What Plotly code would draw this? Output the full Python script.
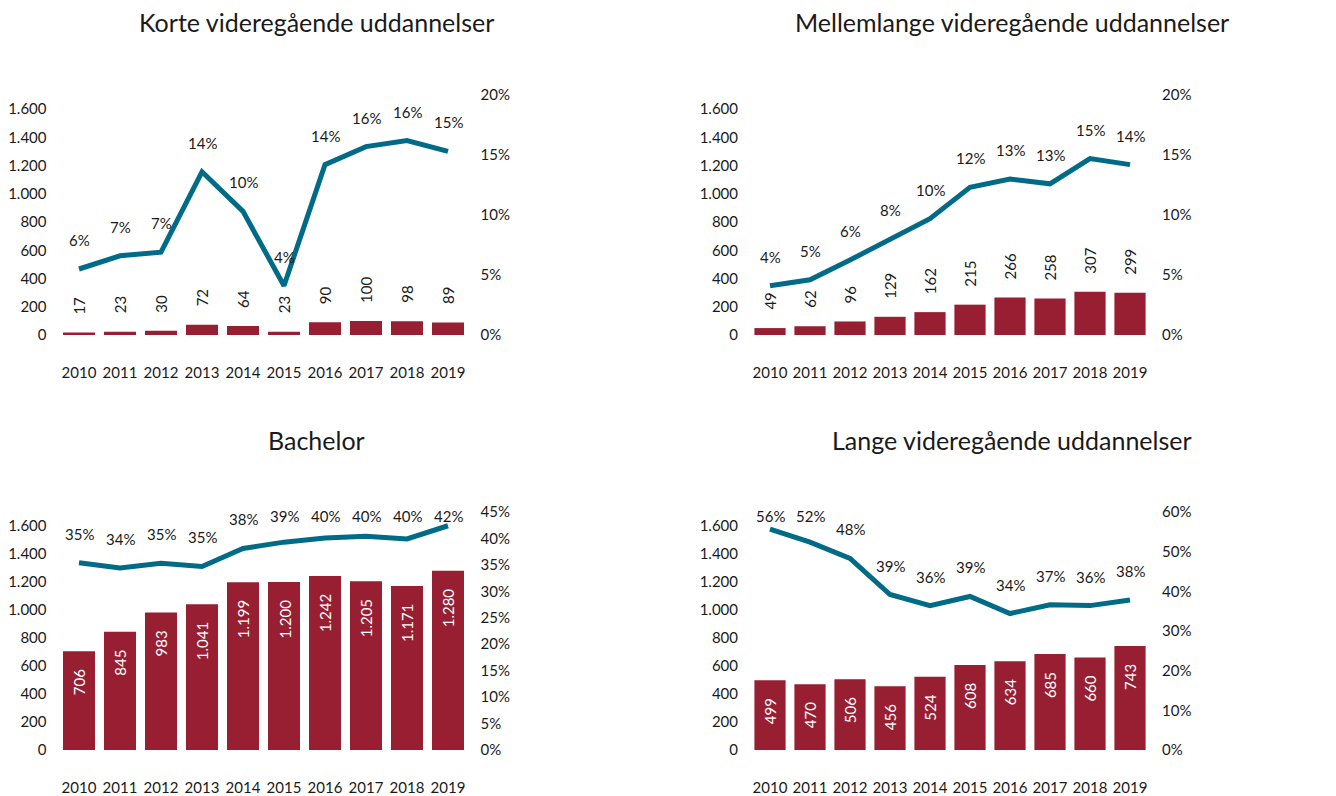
import plotly.graph_objects as go

# Years on the category axis
years = [str(y) for y in range(2010, 2020)]

# Number of graduates (bars) and share (line) per education type
korte_antal = [17, 23, 30, 72, 64, 23, 90, 100, 98, 89]
korte_andel = [0.055, 0.066, 0.069, 0.136, 0.103, 0.041, 0.142, 0.157, 0.162, 0.153]

mellem_antal = [49, 62, 96, 129, 162, 215, 266, 258, 307, 299]
mellem_andel = [0.041, 0.046, 0.0625, 0.0797, 0.097, 0.123, 0.130, 0.126, 0.147, 0.142]

bachelor_antal = [706, 845, 983, 1041, 1199, 1200, 1242, 1205, 1171, 1280]
bachelor_andel = [0.354, 0.344, 0.353, 0.347, 0.381, 0.393, 0.401, 0.404, 0.399, 0.424]

lange_antal = [499, 470, 506, 456, 524, 608, 634, 685, 660, 743]
lange_andel = [0.557, 0.524, 0.483, 0.392, 0.364, 0.387, 0.344, 0.366, 0.364, 0.378]

titles = [
    "Korte videregående uddannelser",
    "Mellemlange videregående uddannelser",
    "Bachelor",
    "Lange videregående uddannelser",
]
antal = [korte_antal, mellem_antal, bachelor_antal, lange_antal]
andel = [korte_andel, mellem_andel, bachelor_andel, lange_andel]
pct_max = [0.20, 0.20, 0.45, 0.60]
pct_step = [0.05, 0.05, 0.05, 0.10]

W, H = 1336, 796
BAR = "#981E32"
LINE = "#006B86"
TXT = "#1a1a1a"
FONT = "Lato"

# panel geometry in pixels: (x0, x1, y_top, y_bottom, title_x, title_y)
panels = [
    (58.5, 468.5, 95, 335, 316, 22),
    (750, 1150, 95, 335, 1012, 22),
    (58.5, 468.5, 512, 750, 316, 440),
    (750, 1150, 512, 750, 1012, 440),
]

fig = go.Figure()
annotations = []
layout = dict(
    width=W, height=H,
    margin=dict(l=0, r=0, t=0, b=0, pad=0, autoexpand=False),
    paper_bgcolor="white", plot_bgcolor="white",
    showlegend=False,
    separators=",.",
    font=dict(family=FONT, size=15, color=TXT),
    bargap=0.22,
)


def fmt_int(v):
    return f"{v:,}".replace(",", ".")


for i in range(4):
    x0, x1, yt, yb, tx, ty = panels[i]
    xn = "x" if i == 0 else f"x{i + 1}"
    yl = "y" if i == 0 else f"y{i + 1}"
    yr = f"y{i + 5}"
    xdom = [x0 / W, x1 / W]
    ydom = [1 - yb / H, 1 - yt / H]
    plot_h = yb - yt

    fig.add_trace(go.Bar(
        x=years, y=antal[i], xaxis=xn, yaxis=yl,
        marker=dict(color=BAR, line=dict(width=0)),
        hoverinfo="x+y",
    ))
    fig.add_trace(go.Scatter(
        x=years, y=andel[i], xaxis=xn, yaxis=yr,
        mode="lines", line=dict(color=LINE, width=5),
        hoverinfo="x+y",
    ))

    sfx = "" if i == 0 else str(i + 1)
    layout[f"xaxis{sfx}"] = dict(
        domain=xdom, anchor=yl, type="category",
        range=[-0.5, len(years) - 0.5], autorange=False,
        categoryorder="array", categoryarray=years,
        showgrid=False, showline=False, zeroline=False, ticks="",
        automargin=False,
        tickfont=dict(size=15, color=TXT), ticklabelstandoff=27,
    )
    layout[f"yaxis{sfx}"] = dict(
        domain=ydom, anchor=xn, range=[0, 1700], dtick=200, tick0=0,
        tickformat=",d", showgrid=False, showline=False, zeroline=False,
        ticks="", automargin=False,
        tickfont=dict(size=15, color=TXT), ticklabelstandoff=11,
    )
    layout[f"yaxis{i + 5}"] = dict(
        domain=ydom, anchor=xn, overlaying=yl, side="right",
        range=[0, pct_max[i]], dtick=pct_step[i], tick0=0, tickformat=".0%",
        showgrid=False, showline=False, zeroline=False, ticks="",
        automargin=False,
        tickfont=dict(size=15, color=TXT), ticklabelstandoff=11,
    )

    # panel title
    annotations.append(dict(
        text=titles[i], xref="paper", yref="paper",
        x=tx / W, y=1 - ty / H, xanchor="center", yanchor="middle",
        showarrow=False, font=dict(size=25, color=TXT, family=FONT),
    ))

    # bar value labels, rotated (x given as category index)
    for j, v in enumerate(antal[i]):
        if i < 2:
            annotations.append(dict(
                text=fmt_int(v), xref=xn, yref=yl, x=j, y=v,
                textangle=-90, xanchor="center", yanchor="bottom", yshift=16,
                showarrow=False, font=dict(size=15, color=TXT),
            ))
        else:
            annotations.append(dict(
                text=fmt_int(v), xref=xn, yref=yl, x=j, y=v,
                textangle=-90, xanchor="center", yanchor="top", yshift=-16,
                showarrow=False, font=dict(size=15, color="white"),
            ))

    # share labels above the line, kept inside the panel
    for j, v in enumerate(andel[i]):
        room = (1 - v / pct_max[i]) * plot_h - 4
        shift = min(29, room)
        annotations.append(dict(
            text=f"{round(v * 100):d}%", xref=xn, yref=yr, x=j, y=v,
            xanchor="center", yanchor="middle", yshift=shift,
            showarrow=False, font=dict(size=15, color=TXT),
        ))

layout["annotations"] = annotations
fig.update_layout(**layout)
fig.write_html("out.html")
